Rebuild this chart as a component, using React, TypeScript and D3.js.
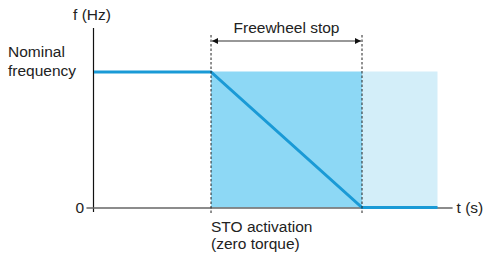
import React from "react";
import * as d3 from "d3";

const timePoints = [0, 3.1, 7.1, 9.1];
const freqValues = [1, 1, 0, 0];
const activationTime = 3.1;
const stopTime = 7.1;
const endTime = 9.1;
const axisEnd = 9.5;
const yTickLabels = ["0"];
const nominalLabel = ["Nominal", "frequency"];
const stoLabel = ["STO activation", "(zero torque)"];

const W = 489;
const H = 258;
const FONT = "'Liberation Sans', Arial, sans-serif";
const FS = 15.5;
const TXT = "#222";

export default function App() {
  const x = d3.scaleLinear().domain([0, endTime]).range([94, 437.5]);
  const y = d3.scaleLinear().domain([0, 1]).range([207.5, 72]);
  const line = d3
    .line<number>()
    .x((_, i) => x(timePoints[i]))
    .y((d) => y(d));
  const xa = x(activationTime);
  const xs = x(stopTime);
  const axisX0 = x(-0.2);
  const y0 = y(0);
  const arrowY = 41;
  return (
    <div style={{ position: "absolute", left: 0, top: 0 }}>
      <svg width={W} height={H} style={{ display: "block" }}>
        <defs>
          <marker id="ah" viewBox="0 0 10 10" refX="10" refY="5" markerWidth="10" markerHeight="6" orient="auto-start-reverse" markerUnits="userSpaceOnUse">
            <path d="M0,0 L10,5 L0,10 z" fill="#111" />
          </marker>
        </defs>
        <rect x={xa} y={y(1) - 0.5} width={xs - xa} height={y0 - y(1) + 0.5} fill="#8dd8f5" />
        <rect x={xs} y={y(1) - 0.5} width={x(endTime) - xs} height={y0 - y(1) + 0.5} fill="#d3eef9" />
        {/* axes */}
        <line x1={93.5} x2={93.5} y1={28} y2={212} stroke="#111" strokeWidth={1.2} />
        <line x1={axisX0} x2={x(axisEnd)} y1={y0 + 0.5} y2={y0 + 0.5} stroke="#666" strokeWidth={1.5} />
        <path d={line(freqValues) || ""} fill="none" stroke="#1a9ad6" strokeWidth={3} />
        {/* dashed lines */}
        {[xa, xs].map((xv, i) => (
          <line key={i} x1={xv} x2={xv} y1={35} y2={215} stroke="#222" strokeWidth={1} strokeDasharray="2.5,2" />
        ))}
        <line x1={xa + 1} x2={xs - 1} y1={arrowY} y2={arrowY} stroke="#333" strokeWidth={1.2} markerStart="url(#ah)" markerEnd="url(#ah)" />
        <g fontFamily={FONT} fontSize={FS} fill={TXT}>
          <text x={(xa + xs) / 2} y={33} textAnchor="middle">Freewheel stop</text>
          <text x={92} y={20} textAnchor="middle">f (Hz)</text>
          {nominalLabel.map((t, i) => (
            <text key={t} x={8} y={57 + i * 19}>{t}</text>
          ))}
          {yTickLabels.map((t) => (
            <text key={t} x={84} y={y0 + 5} textAnchor="end">{t}</text>
          ))}
          <text x={x(axisEnd) + 4} y={y0 + 5}>t (s)</text>
          {stoLabel.map((t, i) => (
            <text key={t} x={xa} y={232 + i * 17}>{t}</text>
          ))}
        </g>
      </svg>
    </div>
  );
}
